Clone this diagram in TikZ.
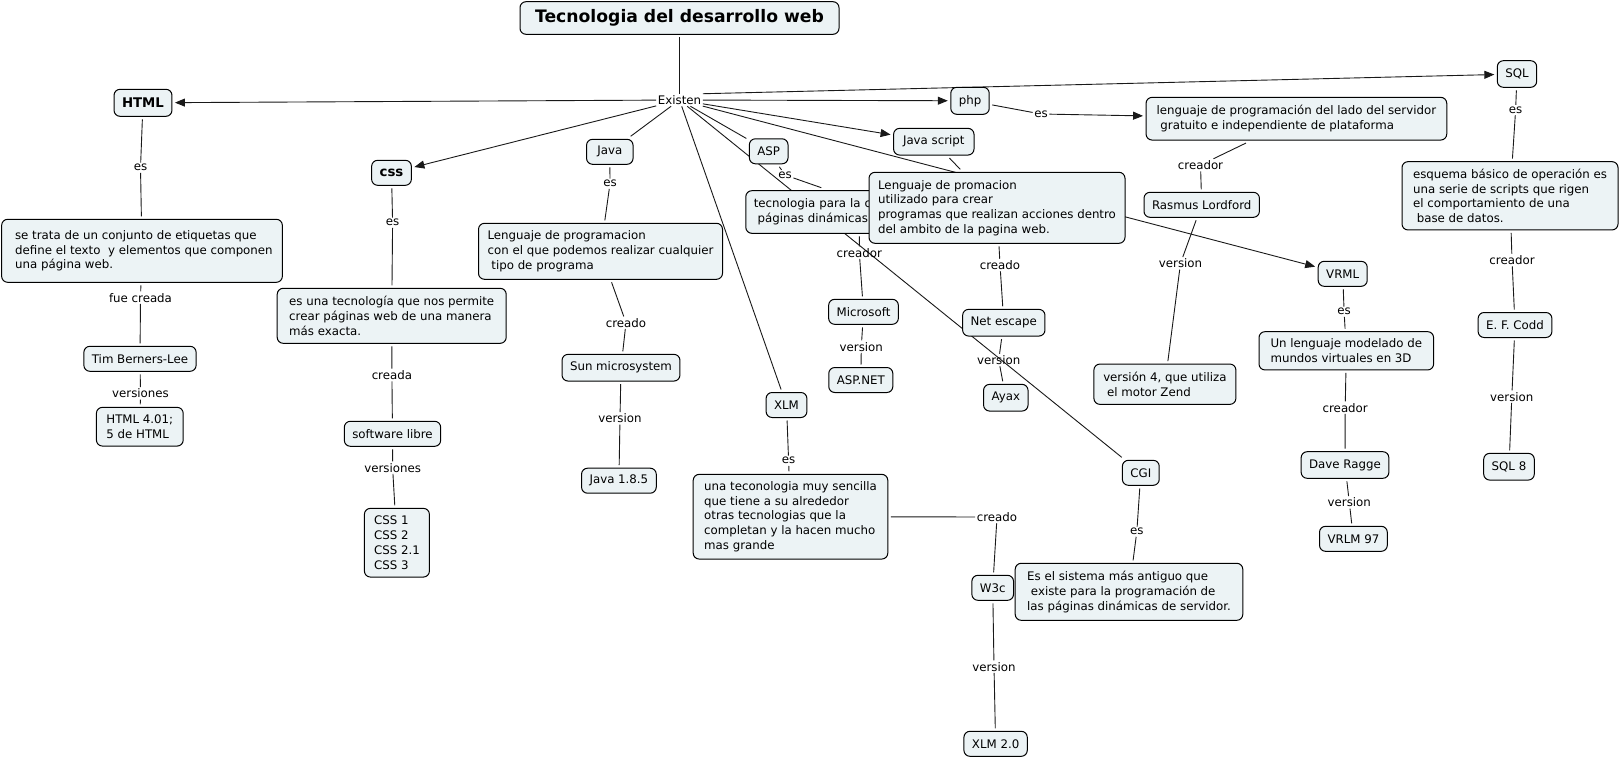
\documentclass[tikz,border=0pt]{standalone}
\usepackage{fontspec}
\setmainfont{DejaVu Sans}
\usetikzlibrary{arrows.meta,backgrounds}
\definecolor{conceptfill}{RGB}{236,243,245}
\newcommand{\indsp}{\hspace*{0.32em}}
\newcommand{\mapfont}{\fontsize{11.8}{14.7}\selectfont}
\newcommand{\mapbold}{\fontsize{13.3}{16}\selectfont\bfseries}
\begin{document}
\begin{tikzpicture}[x=1pt,y=-1pt,line cap=round,line join=round,>={Triangle[length=10pt,width=8pt]},
  concept/.style={draw=black,line width=1pt,fill=conceptfill,rounded corners=6pt,inner xsep=8pt,inner ysep=4pt,minimum height=25pt,outer sep=3pt,font=\mapfont},
  desc/.style={concept,align=left},
  link/.style={inner sep=1.5pt,font=\mapfont},
  con/.style={draw=black!90,line width=0.9pt}]
\useasboundingbox (0,0) rectangle (1621,758);
\node[concept,minimum width=319pt,minimum height=32.6pt,font=\fontsize{17.2}{20}\selectfont\bfseries] (titulo) at (679.5,18) {Tecnologia del desarrollo web};
\node[link] (existen) at (679.5,100) {Existen};
\node[concept,minimum height=27pt,font=\mapbold] (html) at (143,102.8) {HTML};
\node[link] (esHtml) at (140.5,167.7) {es};
\node[desc,minimum width=280.7pt,minimum height=63pt] (htmlDesc) at (142,250.8) {\indsp se trata de un conjunto de etiquetas que\\\indsp define el texto\ \ y elementos que componen\\\indsp una página web.};
\node[link] (fueCreada) at (140.5,297.7) {fue creada};
\node[concept] (tim) at (140,358.8) {Tim Berners-Lee};
\node[link] (versHtml) at (140.5,393.3) {versiones};
\node[desc,minimum width=86.8pt,minimum height=38.7pt] (htmlVer) at (139.8,426.7) {HTML 4.01;\\5 de HTML};
\node[concept,font=\mapbold] (css) at (391.5,172.8) {css};
\node[link] (esCss) at (392.6,222.7) {es};
\node[desc,minimum width=229pt,minimum height=55pt] (cssDesc) at (391.7,315.8) {es una tecnología que nos permite\\crear páginas web de una manera\\más exacta.};
\node[link] (creada) at (391.9,375) {creada};
\node[concept] (libre) at (392.5,433.8) {software libre};
\node[link] (versCss) at (392.6,467.7) {versiones};
\node[desc,minimum width=65pt,minimum height=68.7pt] (cssVer) at (396.9,542.7) {CSS 1\\CSS 2\\CSS 2.1\\CSS 3};
\node[concept,minimum width=46.5pt] (java) at (609.8,151.8) {Java};
\node[link] (esJava) at (610,183.7) {es};
\node[desc,minimum width=244pt,minimum height=56pt] (javaDesc) at (600.5,251.3) {Lenguaje de programacion\\con el que podemos realizar cualquier\\\indsp tipo de programa};
\node[link] (creadoJava) at (626,322.7) {creado};
\node[concept,minimum height=26.7pt] (sun) at (621,367.7) {Sun microsystem};
\node[link] (verJava) at (620,418.3) {version};
\node[concept] (javaVer) at (618.9,480.7) {Java 1.8.5};
\node[concept] (asp) at (768.7,151.3) {ASP};
\node[link] (esAsp) at (785,175) {es};
\node[concept,align=left,text width=274pt,minimum height=42.6pt] (aspDesc) at (890.8,212) {tecnologia para la c\\\indsp páginas dinámicas};
\node[link] (creadorAsp) at (859.3,252.7) {creador};
\node[concept] (microsoft) at (863.5,311.8) {Microsoft};
\node[link] (verAsp) at (861.3,346.7) {version};
\node[concept] (aspNet) at (860.8,380) {ASP.NET};
\node[concept,minimum width=80.4pt,minimum height=26.7pt] (js) at (933.8,141.7) {Java script};
\node[desc,minimum width=256pt,minimum height=71pt] (jsDesc) at (997,207.8) {Lenguaje de promacion\\utilizado para crear\\programas que realizan acciones dentro\\del ambito de la pagina web.};
\node[link] (creadoJs) at (1000,265) {creado};
\node[concept,minimum height=26.7pt] (netEscape) at (1003.8,322.7) {Net escape};
\node[link] (verJs) at (998.7,360) {version};
\node[concept,minimum height=26.7pt] (ayax) at (1005.8,397.7) {Ayax};
\node[concept,minimum height=27pt] (php) at (970,100.8) {php};
\node[link] (esPhp) at (1041,114) {es};
\node[desc,minimum width=300.7pt,minimum height=42.7pt] (phpDesc) at (1296.4,118.7) {lenguaje de programación del lado del servidor\\\indsp gratuito e independiente de plataforma};
\node[link] (creadorPhp) at (1200.5,165) {creador};
\node[concept] (rasmus) at (1201.7,204.8) {Rasmus Lordford};
\node[link] (verPhp) at (1180.5,263.3) {version};
\node[desc,minimum width=142pt,minimum height=40.3pt] (phpVer) at (1164.9,384.2) {versión 4, que utiliza\\\indsp el motor Zend};
\node[concept,minimum height=26.6pt] (sql) at (1517,74) {SQL};
\node[link] (esSql) at (1515.6,110) {es};
\node[desc,minimum width=216pt,minimum height=68.3pt] (sqlDesc) at (1510,195.8) {esquema básico de operación es\\una serie de scripts que rigen\\el comportamiento de una\\\indsp base de datos.};
\node[link] (creadorSql) at (1512,260) {creador};
\node[concept] (codd) at (1515,325) {E. F. Codd};
\node[link] (verSql) at (1511.8,396.7) {version};
\node[concept,minimum height=26.7pt] (sqlVer) at (1509,466.7) {SQL 8};
\node[concept] (vrml) at (1342.7,273.8) {VRML};
\node[link] (esVrml) at (1344.1,311.7) {es};
\node[desc,minimum width=174.6pt,minimum height=38.3pt] (vrmlDesc) at (1346.3,350.8) {Un lenguaje modelado de\\mundos virtuales en 3D};
\node[link] (creadorVrml) at (1345.2,407.7) {creador};
\node[concept,minimum height=26.6pt] (dave) at (1345,465) {Dave Ragge};
\node[link] (verVrml) at (1349.3,502.3) {version};
\node[concept] (vrmlVer) at (1353.4,538.8) {VRLM 97};
\node[concept] (xlm) at (786.5,405) {XLM};
\node[link] (esXlm) at (788.6,460.7) {es};
\node[desc,minimum width=194.6pt,minimum height=84.7pt] (xlmDesc) at (790.5,516.7) {una teconologia muy sencilla\\que tiene a su alrededor\\otras tecnologias que la\\completan y la hacen mucho\\mas grande};
\node[link] (creadoXlm) at (997,517) {creado};
\node[concept] (w3c) at (992.7,587.8) {W3c};
\node[link] (verXlm) at (994,666.7) {version};
\node[concept] (xlmVer) at (995.6,743.8) {XLM 2.0};
\node[concept] (cgi) at (1140.8,472.8) {CGI};
\node[link] (esCgi) at (1136.8,531.7) {es};
\node[desc,minimum width=227.6pt,minimum height=57pt] (cgiDesc) at (1129,591.8) {Es el sistema más antiguo que\\\indsp existe para la programación de\\las páginas dinámicas de servidor.};
\begin{scope}[on background layer]
\fill[white] (0,0) rectangle (1621,758);
\draw[con] (titulo) -- (existen);
\draw[con,->] (existen) -- (html);
\draw[con,->] (existen) -- (css);
\draw[con] (existen) -- (java);
\draw[con] (existen) -- (xlm);
\draw[con] (existen) -- (asp);
\draw[con] (existen) -- (cgi);
\draw[con,->] (existen) -- (php);
\draw[con,->] (existen.north east) -- (sql);
\draw[con,->] (existen) -- (js);
\draw[con,->] (existen) -- (vrml);
\draw[con] (html) -- (esHtml) -- (htmlDesc) -- (fueCreada) -- (tim) -- (versHtml) -- (htmlVer);
\draw[con] (css) -- (esCss) -- (cssDesc) -- (creada) -- (libre) -- (versCss) -- (cssVer);
\draw[con] (java) -- (esJava) -- (javaDesc) -- (creadoJava) -- (sun) -- (verJava) -- (javaVer);
\draw[con] (asp) -- (esAsp) -- (aspDesc);
\draw[con] (aspDesc.south -| creadorAsp) -- (creadorAsp) -- (microsoft) -- (verAsp) -- (aspNet);
\draw[con] (js) -- (jsDesc) -- (creadoJs) -- (netEscape) -- (verJs) -- (ayax);
\draw[con] (php) -- (esPhp);
\draw[con,->] (esPhp) -- (phpDesc);
\draw[con] (phpDesc) -- (creadorPhp) -- (rasmus) -- (verPhp) -- (phpVer);
\draw[con] (sql) -- (esSql) -- (sqlDesc) -- (creadorSql) -- (codd) -- (verSql) -- (sqlVer);
\draw[con] (vrml) -- (esVrml) -- (vrmlDesc) -- (creadorVrml) -- (dave) -- (verVrml) -- (vrmlVer);
\draw[con] (xlm) -- (esXlm) -- (xlmDesc) -- (creadoXlm) -- (w3c) -- (verXlm) -- (xlmVer);
\draw[con] (cgi) -- (esCgi) -- (cgiDesc);
\end{scope}
\end{tikzpicture}
\end{document}
